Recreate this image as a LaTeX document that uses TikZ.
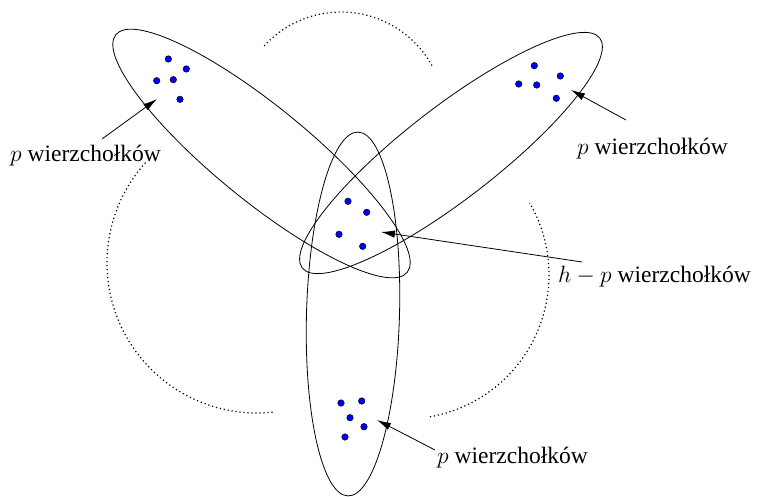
\documentclass[tikz,border=0pt]{standalone}
\usepackage{fontspec}
\setmainfont{Liberation Serif}
\usetikzlibrary{arrows.meta}
\newcommand{\lbltext}[1]{\scalebox{0.945}{\Huge #1}}
\begin{document}
\begin{tikzpicture}[x=1pt,y=-1pt,
  setline/.style={line width=0.8pt},
  arcdot/.style={line width=1.2pt, dash pattern=on 1.2pt off 2.8pt},
  vtx/.style={circle, draw=black, fill=blue, line width=0.5pt, inner sep=0pt, minimum size=6.5pt},
  lbl/.style={anchor=base west, inner sep=0pt},
  ptr/.style={line width=0.8pt, -{Latex[length=14pt,width=7.5pt]}}]
\useasboundingbox (0,0) rectangle (759,497);

% three sets
\draw[setline, rotate around={-39.2:(261.5,153.5)}] (261.5,153.5) ellipse [x radius=188pt, y radius=47pt];
\draw[setline, rotate around={37.7:(451,153)}] (451,153) ellipse [x radius=188pt, y radius=46pt];
\draw[setline, rotate around={88.4:(353,314)}] (353,314) ellipse [x radius=182pt, y radius=46.5pt];

% dotted arcs
\draw[arcdot] (341,116) ++(29:104pt) arc[start angle=29, end angle=139, radius=104pt];
\draw[arcdot] (257,263) ++(138:150pt) arc[start angle=138, end angle=277, radius=150pt];
\draw[arcdot] (405,275) ++(-80:144pt) arc[start angle=-80, end angle=30, radius=144pt];

% vertices
\node[vtx] (l1) at (168.3,59) {};
\node[vtx] (l2) at (186.3,69) {};
\node[vtx] (l3) at (156.7,80.7) {};
\node[vtx] (l4) at (173.3,79.7) {};
\node[vtx] (l5) at (180,99.3) {};

\node[vtx] (r1) at (534.3,65.7) {};
\node[vtx] (r2) at (560.3,76) {};
\node[vtx] (r3) at (518.7,84) {};
\node[vtx] (r4) at (536.7,85) {};
\node[vtx] (r5) at (556.3,98.3) {};

\node[vtx] (c1) at (348,201.3) {};
\node[vtx] (c2) at (366.7,212.3) {};
\node[vtx] (c3) at (339,234.3) {};
\node[vtx] (c4) at (362.7,246.3) {};

\node[vtx] (b1) at (341,403) {};
\node[vtx] (b2) at (361.7,401) {};
\node[vtx] (b3) at (350,417.7) {};
\node[vtx] (b4) at (364,426.7) {};
\node[vtx] (b5) at (345,437) {};

% labels
\node[lbl] (tl) at (10,161) {\lbltext{$p$ wierzchołków}};
\node[lbl] (tr) at (577,155) {\lbltext{$p$ wierzchołków}};
\node[lbl] (tc) at (558,282) {\lbltext{$h-p$ wierzchołków}};
\node[lbl] (tb) at (437,463) {\lbltext{$p$ wierzchołków}};

% pointers
\coordinate (al0) at (102,139); \coordinate (al1) at (157,99);
\coordinate (ar0) at (626,120); \coordinate (ar1) at (571,90);
\coordinate (ac0) at (582,262); \coordinate (ac1) at (381,232);
\coordinate (ab0) at (435,450); \coordinate (ab1) at (377,420);
\draw[ptr] (al0) -- (al1);
\draw[ptr] (ar0) -- (ar1);
\draw[ptr] (ac0) -- (ac1);
\draw[ptr] (ab0) -- (ab1);
\end{tikzpicture}
\end{document}
